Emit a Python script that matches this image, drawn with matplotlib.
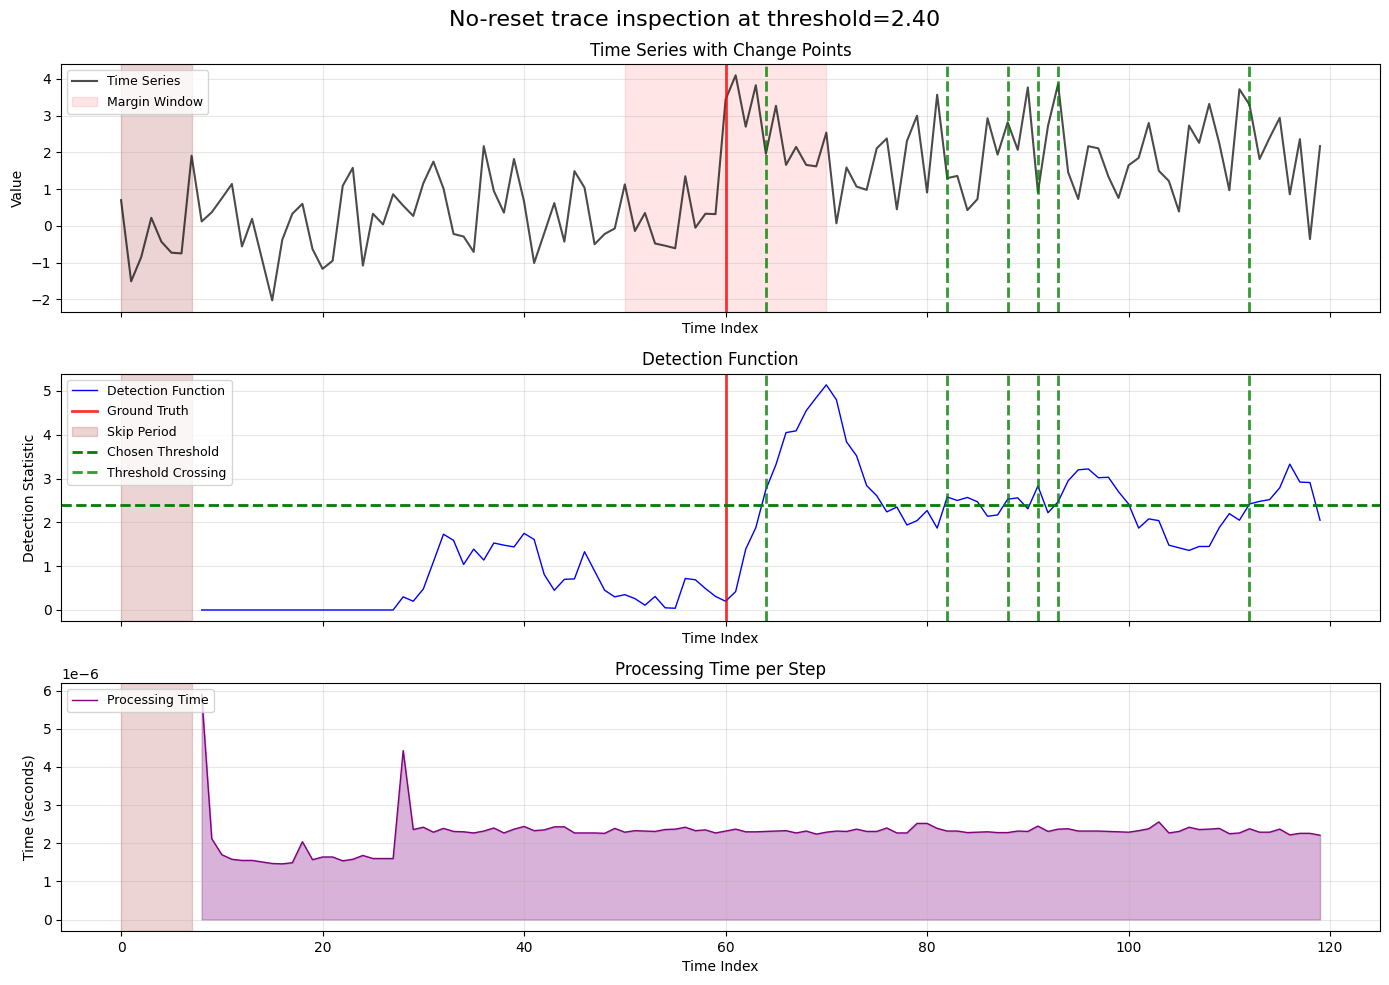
import numpy as np
import matplotlib
matplotlib.use('Agg')
import matplotlib.pyplot as plt

threshold = 2.40
true_cp = 60
skip_end = 7
margin_start, margin_end = 50, 70
crossings = [64, 82, 88, 91, 93, 112]

series = [
    0.70, -1.51, -0.85, 0.22, -0.43, -0.73, -0.75, 1.91, 0.12, 0.37,
    0.75, 1.14, -0.56, 0.19, -0.92, -2.03, -0.38, 0.33, 0.60, -0.63,
    -1.17, -0.95, 1.09, 1.58, -1.08, 0.33, 0.04, 0.86, 0.55, 0.27,
    1.16, 1.75, 1.02, -0.22, -0.29, -0.71, 2.17, 0.95, 0.36, 1.82,
    0.66, -1.01, -0.20, 0.62, -0.43, 1.49, 1.04, -0.50, -0.22, -0.07,
    1.13, -0.14, 0.35, -0.48, -0.54, -0.61, 1.35, -0.05, 0.33, 0.32,
    3.44, 4.10, 2.70, 3.83, 1.96, 3.27, 1.66, 2.15, 1.66, 1.62,
    2.54, 0.07, 1.59, 1.07, 0.98, 2.11, 2.38, 0.45, 2.31, 3.00,
    0.91, 3.57, 1.30, 1.36, 0.43, 0.73, 2.93, 1.94, 2.82, 2.07,
    3.77, 0.92, 2.72, 3.86, 1.46, 0.73, 2.17, 2.11, 1.34, 0.76,
    1.65, 1.85, 2.80, 1.50, 1.22, 0.39, 2.73, 2.26, 3.32, 2.25,
    0.97, 3.72, 3.30, 1.82, 2.40, 2.94, 0.86, 2.36, -0.36, 2.17,
]

# detection statistic, starts after the skip period (index 8)
det_start = 8
detection = [
    0.00, 0.00, 0.00, 0.00, 0.00, 0.00, 0.00, 0.00, 0.00, 0.00,
    0.00, 0.00, 0.00, 0.00, 0.00, 0.00, 0.00, 0.00, 0.00, 0.00,
    0.30, 0.20, 0.48, 1.10, 1.73, 1.59, 1.04, 1.39, 1.14, 1.53,
    1.48, 1.44, 1.75, 1.61, 0.81, 0.45, 0.70, 0.71, 1.33, 0.89,
    0.45, 0.30, 0.35, 0.26, 0.11, 0.31, 0.05, 0.04, 0.72, 0.69,
    0.49, 0.31, 0.20, 0.42, 1.39, 1.88, 2.75, 3.32, 4.05, 4.09,
    4.55, 4.85, 5.14, 4.80, 3.84, 3.52, 2.84, 2.61, 2.24, 2.35,
    1.94, 2.04, 2.27, 1.87, 2.58, 2.50, 2.57, 2.47, 2.14, 2.17,
    2.53, 2.56, 2.31, 2.83, 2.22, 2.47, 2.95, 3.20, 3.22, 3.02,
    3.03, 2.70, 2.42, 1.87, 2.08, 2.04, 1.48, 1.42, 1.36, 1.45,
    1.45, 1.88, 2.20, 2.05, 2.42, 2.48, 2.52, 2.79, 3.33, 2.92,
    2.91, 2.05,
]

# processing time per step in microseconds
proc_us = [
    5.90, 2.12, 1.70, 1.58, 1.55, 1.55, 1.51, 1.47, 1.46, 1.49,
    2.04, 1.57, 1.64, 1.64, 1.54, 1.58, 1.68, 1.60, 1.60, 1.60,
    4.43, 2.36, 2.42, 2.29, 2.39, 2.31, 2.30, 2.27, 2.32, 2.40,
    2.27, 2.37, 2.44, 2.33, 2.35, 2.43, 2.43, 2.27, 2.27, 2.27,
    2.26, 2.39, 2.29, 2.33, 2.32, 2.31, 2.36, 2.37, 2.42, 2.33,
    2.35, 2.27, 2.32, 2.37, 2.30, 2.30, 2.31, 2.32, 2.33, 2.27,
    2.32, 2.24, 2.29, 2.32, 2.31, 2.37, 2.31, 2.31, 2.40, 2.27,
    2.27, 2.52, 2.52, 2.39, 2.32, 2.32, 2.28, 2.29, 2.30, 2.28,
    2.28, 2.32, 2.31, 2.45, 2.31, 2.37, 2.38, 2.32, 2.32, 2.32,
    2.31, 2.30, 2.29, 2.33, 2.38, 2.56, 2.27, 2.31, 2.42, 2.36,
    2.37, 2.39, 2.25, 2.27, 2.38, 2.29, 2.29, 2.37, 2.22, 2.26,
    2.26, 2.21,
]

t = np.arange(len(series))
t_det = np.arange(det_start, det_start + len(detection))
proc_time = np.array(proc_us) * 1e-6

fig, axes = plt.subplots(3, 1, figsize=(13.89, 9.85), dpi=100, sharex=True)
fig.subplots_adjust(left=0.044, right=0.9935, top=0.935, bottom=0.055, hspace=0.25)
fig.suptitle('No-reset trace inspection at threshold=2.40', fontsize=16, y=0.99)

leg_kw = dict(loc='upper left', fontsize=9, labelspacing=0.6)

# time series
ax = axes[0]
ax.plot(t, series, color='black', alpha=0.7, lw=1.5, label='Time Series')
ax.axvspan(0, skip_end, color='brown', alpha=0.2)
ax.axvline(true_cp, color='red', lw=2, alpha=0.8)
ax.axvspan(margin_start, margin_end, color='red', alpha=0.1, label='Margin Window')
for c in crossings:
    ax.axvline(c, color='green', ls='--', lw=2, alpha=0.8)
ax.set_title('Time Series with Change Points')
ax.set_ylabel('Value')
ax.set_xlabel('Time Index')
ax.legend(**leg_kw)
ax.grid(True, alpha=0.3)

# detection function
ax = axes[1]
ax.plot(t_det, detection, color='blue', lw=1, label='Detection Function')
ax.axvline(true_cp, color='red', lw=2, alpha=0.8, label='Ground Truth')
ax.axvspan(0, skip_end, color='brown', alpha=0.2, label='Skip Period')
ax.axhline(threshold, color='green', ls='--', lw=2, label='Chosen Threshold')
for i, c in enumerate(crossings):
    ax.axvline(c, color='green', ls='--', lw=2, alpha=0.8,
               label='Threshold Crossing' if i == 0 else None)
ax.set_title('Detection Function')
ax.set_ylabel('Detection Statistic')
ax.set_xlabel('Time Index')
ax.legend(**leg_kw)
ax.grid(True, alpha=0.3)

# processing time
ax = axes[2]
ax.plot(t_det, proc_time, color='purple', lw=1, label='Processing Time')
ax.fill_between(t_det, proc_time, color='purple', alpha=0.3)
ax.axvspan(0, skip_end, color='brown', alpha=0.2)
ax.set_title('Processing Time per Step')
ax.set_ylabel('Time (seconds)')
ax.set_xlabel('Time Index')
ax.legend(**leg_kw)
ax.grid(True, alpha=0.3)

for ax in axes[:2]:
    ax.xaxis.set_tick_params(labelbottom=False)

fig.savefig('out.png', dpi=100)
